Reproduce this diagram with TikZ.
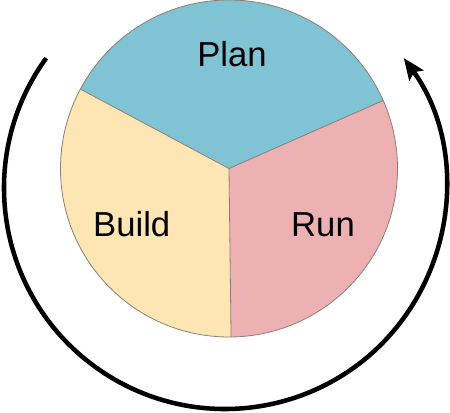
\documentclass[tikz,border=0pt]{standalone}
\usepackage{fontspec}
\setmainfont{Liberation Sans}
\usetikzlibrary{arrows.meta}
\definecolor{planblue}{HTML}{80C3D4}
\definecolor{buildyellow}{HTML}{FDE6B3}
\definecolor{runpink}{HTML}{EDB1B3}
\definecolor{edgegray}{HTML}{8C7E74}
\begin{document}
\begin{tikzpicture}[x=0.75pt,y=0.75pt,
  sector/.style={draw=edgegray,line width=0.6pt},
  label/.style={inner sep=0pt,font=\fontsize{26}{31}\selectfont},
  cycle/.style={line width=3.4pt,-{Stealth[length=16pt,width=13pt,inset=3pt]}}]
\useasboundingbox (0,0) rectangle (450,412);
\coordinate (c) at (229,243.5);
\def\R{168.5}
\fill[planblue] (c) -- ++(23.8:\R) arc[start angle=23.8,end angle=151.9,radius=\R] -- cycle;
\fill[runpink] (c) -- ++(-89.3:\R) arc[start angle=-89.3,end angle=23.8,radius=\R] -- cycle;
\fill[buildyellow] (c) -- ++(151.9:\R) arc[start angle=151.9,end angle=270.7,radius=\R] -- cycle;
\draw[sector] (c) circle[radius=\R];
\draw[sector] (c) -- ++(23.8:\R);
\draw[sector] (c) -- ++(151.9:\R);
\draw[sector] (c) -- ++(-89.3:\R);
\node[label] (plan) at (232,358) {Plan};
\node[label] (build) at (131.7,188) {Build};
\node[label] (run) at (323,187) {Run};
\coordinate (ac) at (225,224);
\draw[cycle] (ac) ++(144:221) arc[start angle=144,end angle=396,radius=221];
\end{tikzpicture}
\end{document}
